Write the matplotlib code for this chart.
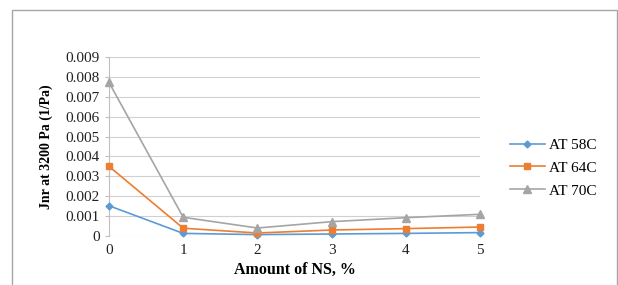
import matplotlib.pyplot as plt
from matplotlib.patches import Rectangle

# Data
ns_amount = [0, 1, 2, 3, 4, 5]
at_58c = [0.00152, 0.00013, 0.00007, 0.00010, 0.00013, 0.00017]
at_64c = [0.00350, 0.00039, 0.00015, 0.00030, 0.00037, 0.00045]
at_70c = [0.00772, 0.00094, 0.00040, 0.00072, 0.00092, 0.00109]

plt.rcParams['font.family'] = ['Liberation Serif', 'DejaVu Serif']

fig = plt.figure(figsize=(6.18, 2.85), dpi=100)
ax = fig.add_axes([0.1764, 0.172, 0.6003, 0.628])

# outer frame like the pasted Excel chart
fig.patches.append(Rectangle((12 / 618, -0.1), 605 / 618, 1.1 - 10 / 285,
                             transform=fig.transFigure, fill=False,
                             edgecolor='#A6A6A6', linewidth=1.0))

ax.plot(ns_amount, at_58c, color='#5B9BD5', marker='D', markersize=3.5,
        linewidth=1.2, label='AT 58C', clip_on=False, zorder=3)
ax.plot(ns_amount, at_64c, color='#ED7D31', marker='s', markersize=5,
        linewidth=1.2, label='AT 64C', clip_on=False, zorder=3)
ax.plot(ns_amount, at_70c, color='#A5A5A5', marker='^', markersize=5.5,
        linewidth=1.2, label='AT 70C', clip_on=False, zorder=3)

ax.set_xlim(0, 5)
ax.set_ylim(0, 0.009)
ax.set_yticks([i * 0.001 for i in range(10)])
ax.set_yticklabels(['0'] + [f'{i * 0.001:.3f}' for i in range(1, 10)])
ax.set_xticks(ns_amount)

ax.grid(axis='y', color='#D0D0D0', linewidth=0.8)
ax.set_axisbelow(True)
for side in ['top', 'right', 'bottom']:
    ax.spines[side].set_visible(False)
ax.spines['left'].set_color('#BFBFBF')
ax.tick_params(axis='both', labelsize=11, colors='#BFBFBF', labelcolor='#222222',
               length=3, width=0.8)
ax.tick_params(axis='x', length=0, pad=6)

ax.set_ylabel('Jnr at 3200 Pa (1/Pa)', fontsize=10, fontweight='bold', labelpad=9)
ax.set_xlabel('Amount of NS, %', fontsize=11.5, fontweight='bold', labelpad=3)

ax.legend(loc='center left', bbox_to_anchor=(1.043, 0.38), frameon=False,
          fontsize=11, handlelength=2.3, labelspacing=0.6, handletextpad=0.25)

fig.savefig('out.png', dpi=100)
